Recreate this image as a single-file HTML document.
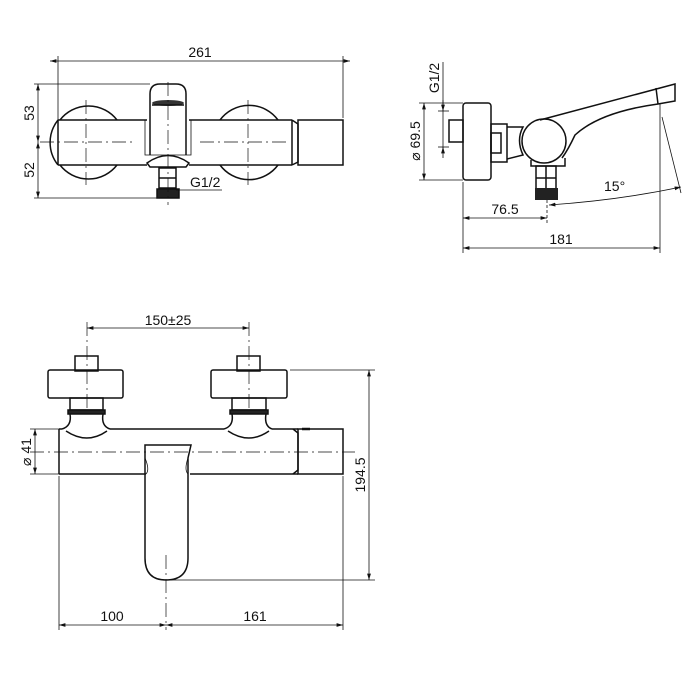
<!DOCTYPE html>
<html><head><meta charset="utf-8"><style>
html,body{margin:0;padding:0;background:#fff;}
svg{display:block}
text{font-family:"Liberation Sans",sans-serif;font-size:14px;fill:#111}
</style></head><body>
<svg width="700" height="700" viewBox="0 0 700 700" xmlns="http://www.w3.org/2000/svg">
<defs>
<marker id="a" viewBox="0 0 10 10" refX="10" refY="5" markerWidth="8" markerHeight="8" orient="auto-start-reverse"><path d="M0,2 L10,5 L0,8 z" fill="#111"/></marker>
</defs>
<g fill="none" stroke="#111" stroke-width="1.5">
<!-- ============ TOP LEFT ============ -->
<line x1="50" y1="61" x2="350" y2="61" stroke-width="0.8" marker-start="url(#a)" marker-end="url(#a)"/>
<line x1="58" y1="56" x2="58" y2="120" stroke-width="0.8"/>
<line x1="343" y1="56" x2="343" y2="118" stroke-width="0.8"/>
<path d="M58,120 A36,36 0 0 0 58,165" />
<path d="M60,120 A36,36 0 0 1 117,120" />
<path d="M60,165 A36,36 0 0 0 117,165" />
<path d="M220,120 A36,36 0 0 1 278,120" />
<path d="M220,165 A36,36 0 0 0 278,165" />
<line x1="58" y1="120" x2="147" y2="120"/>
<line x1="189" y1="120" x2="292" y2="120"/>
<line x1="58" y1="165" x2="147" y2="165"/>
<line x1="189" y1="165" x2="292" y2="165"/>
<line x1="58" y1="120" x2="58" y2="165"/>
<path d="M292,120 L298,124 L298,162 L292,165"/>
<rect x="298" y="120" width="45" height="45"/>
<line x1="292" y1="120" x2="292" y2="165"/>
<path d="M150,155 L150,94 Q150,84 160,84 L176,84 Q186,84 186,94 L186,155"/>
<path d="M145,120 L145,155 L191,155 L191,120" stroke-width="0.8"/>
<ellipse cx="168" cy="103" rx="16" ry="3" fill="#333" stroke="none"/>
<line x1="152" y1="105" x2="184" y2="105"/>
<path d="M147,163 Q168,148 189,163 L186,167 L150,167 Z"/>
<rect x="159" y="168" width="17" height="20"/>
<line x1="159" y1="178" x2="176" y2="178"/>
<rect x="157" y="189" width="22" height="9" fill="#222"/>
<g stroke-width="0.7" stroke-dasharray="14,4,2,4">
<line x1="40" y1="142" x2="135" y2="142"/>
<line x1="200" y1="142" x2="290" y2="142"/>
<line x1="86" y1="100" x2="86" y2="185"/>
<line x1="248" y1="100" x2="248" y2="185"/>
<line x1="168" y1="82" x2="168" y2="205"/>
</g>
<line x1="38" y1="84" x2="38" y2="142" stroke-width="0.8" marker-start="url(#a)" marker-end="url(#a)"/>
<line x1="38" y1="142" x2="38" y2="198" stroke-width="0.8" marker-start="url(#a)" marker-end="url(#a)"/>
<line x1="34" y1="84" x2="150" y2="84" stroke-width="0.8"/>
<line x1="34" y1="198" x2="157" y2="198" stroke-width="0.8"/>
<line x1="176" y1="190" x2="222" y2="190" stroke-width="0.8"/>

<!-- ============ TOP RIGHT ============ -->
<rect x="463" y="103" width="28" height="77" rx="3"/>
<rect x="449" y="120" width="14" height="22"/>
<line x1="419" y1="103" x2="463" y2="103" stroke-width="0.8"/>
<line x1="419" y1="180" x2="463" y2="180" stroke-width="0.8"/>
<line x1="424" y1="103" x2="424" y2="180" stroke-width="0.8" marker-start="url(#a)" marker-end="url(#a)"/>
<line x1="443" y1="62" x2="443" y2="153" stroke-width="0.8"/>
<line x1="443" y1="100" x2="443" y2="111" stroke-width="0.8" marker-end="url(#a)"/>
<line x1="443" y1="158" x2="443" y2="147" stroke-width="0.8" marker-end="url(#a)"/>
<line x1="438" y1="111" x2="449" y2="111" stroke-width="0.8"/>
<line x1="438" y1="147" x2="449" y2="147" stroke-width="0.8"/>
<rect x="491" y="124" width="16" height="38"/>
<rect x="491" y="133" width="10" height="20"/>
<path d="M507,127 L523,127 Q516,140 523,155 L507,159"/>
<path d="M531,160 L531,166 L565,166 L565,158"/>
<path d="M540,120 L675,84 L675,101 L658,104 Q600,112 575,135 Q568,150 562,158"/>
<line x1="656" y1="88" x2="658" y2="104"/>
<circle cx="544" cy="141" r="22"/>
<rect x="536" y="166" width="20" height="25"/>
<line x1="546" y1="166" x2="546" y2="191"/>
<line x1="536" y1="178" x2="556" y2="178"/>
<rect x="535" y="188" width="23" height="12" fill="#222" stroke="none"/>
<line x1="547" y1="200" x2="547" y2="225" stroke-width="0.8" stroke-dasharray="3,2"/>
<line x1="463" y1="182" x2="463" y2="253" stroke-width="0.8"/>
<line x1="660" y1="104" x2="660" y2="253" stroke-width="0.8"/>
<line x1="463" y1="218" x2="547" y2="218" stroke-width="0.8" marker-start="url(#a)" marker-end="url(#a)"/>
<line x1="463" y1="248" x2="660" y2="248" stroke-width="0.8" marker-start="url(#a)" marker-end="url(#a)"/>
<line x1="662" y1="117" x2="681" y2="193" stroke-width="0.8"/>
<path d="M549,205 Q620,200 681,187" stroke-width="0.8" marker-start="url(#a)" marker-end="url(#a)"/>

<!-- ============ BOTTOM ============ -->
<line x1="87" y1="328" x2="249" y2="328" stroke-width="0.8" marker-start="url(#a)" marker-end="url(#a)"/>
<g stroke-width="0.7" stroke-dasharray="14,4,2,4">
<line x1="87" y1="322" x2="87" y2="410"/>
<line x1="249" y1="322" x2="249" y2="410"/>
<line x1="30" y1="452" x2="355" y2="452"/>
<line x1="166" y1="555" x2="166" y2="630"/>
</g>
<rect x="75" y="356" width="23" height="15"/>
<rect x="48" y="370" width="75" height="28" rx="2"/>
<rect x="70" y="398" width="33" height="12"/>
<rect x="68" y="410" width="37" height="4" fill="#222"/>
<path d="M70,414 Q72,426 62,429 M103,414 Q101,426 110,429"/>
<path d="M66,431 Q87,445 107,431"/>
<rect x="237" y="356" width="23" height="15"/>
<rect x="211" y="370" width="76" height="28" rx="2"/>
<rect x="232" y="398" width="34" height="12"/>
<rect x="230" y="410" width="38" height="4" fill="#222"/>
<path d="M232,414 Q234,426 224,429 M266,414 Q264,426 272,429"/>
<path d="M228,431 Q249,445 269,431"/>
<path d="M59,429 L62,429 M110,429 L224,429 M272,429 L298,429"/>
<line x1="59" y1="429" x2="59" y2="474"/>
<line x1="59" y1="474" x2="146" y2="474"/>
<line x1="190" y1="474" x2="298" y2="474"/>
<path d="M293,429 L298,433 L298,470 L293,474"/>
<rect x="298" y="429" width="45" height="45"/>
<line x1="302" y1="429" x2="310" y2="429" stroke-width="2.5"/>
<path d="M145,445 L191,445 L188,458 L188,558 Q188,580 166,580 Q145,580 145,558 L145,458 Z"/>
<path d="M145,458 Q150,470 146,474 M188,458 Q184,470 188,474" stroke-width="0.8"/>
<line x1="30" y1="429" x2="59" y2="429" stroke-width="0.8"/>
<line x1="30" y1="474" x2="59" y2="474" stroke-width="0.8"/>
<line x1="35" y1="429" x2="35" y2="474" stroke-width="0.8" marker-start="url(#a)" marker-end="url(#a)"/>
<line x1="290" y1="370" x2="375" y2="370" stroke-width="0.8"/>
<line x1="166" y1="580" x2="375" y2="580" stroke-width="0.8"/>
<line x1="369" y1="370" x2="369" y2="580" stroke-width="0.8" marker-start="url(#a)" marker-end="url(#a)"/>
<line x1="59" y1="476" x2="59" y2="630" stroke-width="0.8"/>
<line x1="343" y1="476" x2="343" y2="630" stroke-width="0.8"/>
<line x1="59" y1="625" x2="166" y2="625" stroke-width="0.8" marker-start="url(#a)" marker-end="url(#a)"/>
<line x1="166" y1="625" x2="343" y2="625" stroke-width="0.8" marker-start="url(#a)" marker-end="url(#a)"/>
</g>
<text x="200" y="57" text-anchor="middle">261</text>
<text transform="translate(34,113) rotate(-90)" text-anchor="middle">53</text>
<text transform="translate(34,170) rotate(-90)" text-anchor="middle">52</text>
<text x="190" y="187">G1/2</text>
<text transform="translate(439,78) rotate(-90)" text-anchor="middle">G1/2</text>
<text transform="translate(420,141) rotate(-90)" text-anchor="middle">⌀ 69.5</text>
<text x="604" y="191">15°</text>
<text x="505" y="214" text-anchor="middle">76.5</text>
<text x="561" y="244" text-anchor="middle">181</text>
<text x="168" y="325" text-anchor="middle">150±25</text>
<text transform="translate(31,452) rotate(-90)" text-anchor="middle">⌀ 41</text>
<text transform="translate(365,475) rotate(-90)" text-anchor="middle">194.5</text>
<text x="112" y="621" text-anchor="middle">100</text>
<text x="255" y="621" text-anchor="middle">161</text>
</svg>
</body></html>
